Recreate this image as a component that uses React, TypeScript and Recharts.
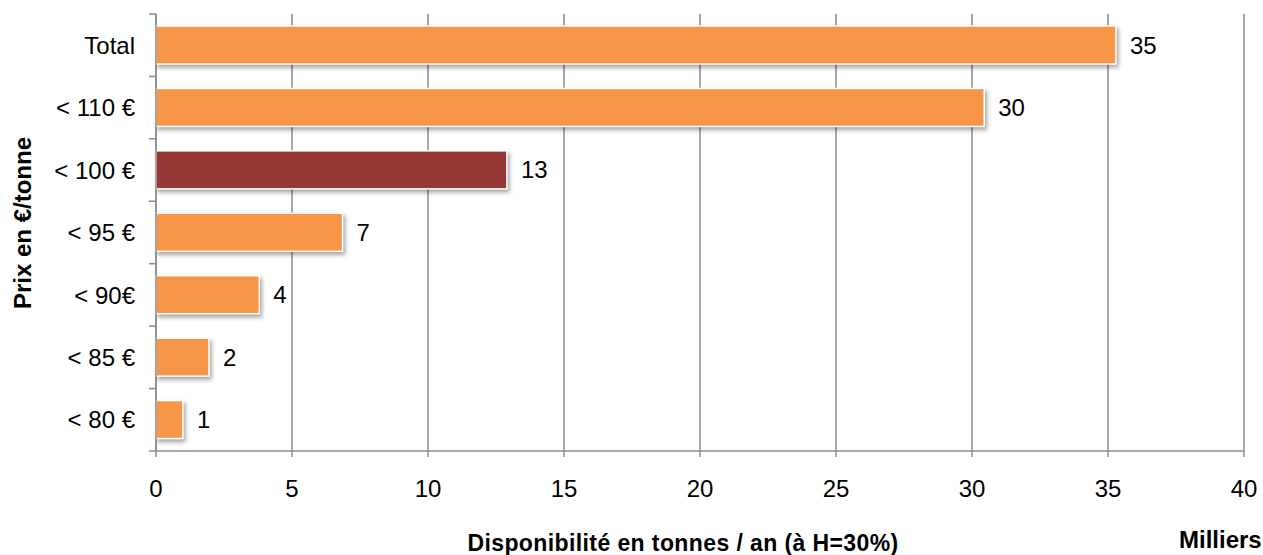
import React from "react";
import {
  BarChart,
  Bar,
  Cell,
  XAxis,
  YAxis,
  CartesianGrid,
  LabelList,
} from "recharts";

// Prix en €/tonne -> disponibilité (milliers de tonnes / an)
const CATEGORIES = ["Total", "< 110 €", "< 100 €", "< 95 €", "< 90€", "< 85 €", "< 80 €"];
const VALUES = [35.29, 30.45, 12.9, 6.86, 3.8, 1.95, 0.99];
const HIGHLIGHT = "< 100 €";
const X_TICKS = [0, 5, 10, 15, 20, 25, 30, 35, 40];

const ORANGE = "#F79646";
const DARK_RED = "#953735";
const AXIS_GREY = "#8C8C8C";
const FONT = "'Liberation Sans', Arial, sans-serif";

const data = CATEGORIES.map((name, i) => ({ name, value: VALUES[i] }));

function ShadowBar(props: any) {
  const { x, y, width, height, fill } = props;
  if (!width || width <= 0) return null;
  return (
    <rect
      x={x}
      y={y}
      width={width}
      height={height}
      fill={fill}
      stroke="#ffffff"
      strokeWidth={1.5}
      style={{ filter: "drop-shadow(2px 3px 2px rgba(0,0,0,0.35))" }}
    />
  );
}

function CategoryTick(props: any) {
  const { x, y, payload, index } = props;
  const half = payload?.offset ?? 437 / CATEGORIES.length / 2;
  return (
    <g>
      <line x1={x - 7} x2={x} y1={y - half} y2={y - half} stroke={AXIS_GREY} strokeWidth={1.5} />
      {index === CATEGORIES.length - 1 && (
        <line x1={x - 7} x2={x} y1={y + half} y2={y + half} stroke={AXIS_GREY} strokeWidth={1.5} />
      )}
      <text
        x={x - 21}
        y={y}
        dy="0.36em"
        textAnchor="end"
        fill="#000"
        fontSize={24}
        fontFamily={FONT}
      >
        {payload.value}
      </text>
    </g>
  );
}

export default function App() {
  return (
    <div
      style={{
        position: "absolute",
        left: 0,
        top: 0,
        width: 1263,
        height: 555,
        overflow: "hidden",
        background: "#fff",
        fontFamily: FONT,
      }}
    >
      <BarChart
        width={1263}
        height={555}
        data={data}
        layout="vertical"
        barSize={38}
        margin={{ top: 14, right: 19, bottom: 64, left: 26 }}
      >
        <CartesianGrid horizontal={false} stroke={AXIS_GREY} strokeWidth={1.5} />
        <XAxis
          type="number"
          domain={[0, 40]}
          ticks={X_TICKS}
          height={40}
          axisLine={{ stroke: AXIS_GREY, strokeWidth: 1.5 }}
          tickLine={{ stroke: AXIS_GREY, strokeWidth: 1.5 }}
          tickSize={6}
          tickMargin={23}
          tick={{ fill: "#000", fontSize: 24, fontFamily: FONT }}
        />
        <YAxis
          type="category"
          dataKey="name"
          width={130}
          axisLine={{ stroke: AXIS_GREY, strokeWidth: 1.5 }}
          tickLine={false}
          tickSize={0}
          tickMargin={0}
          tick={<CategoryTick />}
          interval={0}
        />
        <Bar dataKey="value" shape={<ShadowBar />} isAnimationActive={false}>
          {data.map((d) => (
            <Cell key={d.name} fill={d.name === HIGHLIGHT ? DARK_RED : ORANGE} />
          ))}
          <LabelList
            dataKey="value"
            position="right"
            offset={14}
            formatter={(v: any) => Math.round(Number(v))}
            style={{ fill: "#000", fontSize: 24, fontFamily: FONT }}
          />
        </Bar>
      </BarChart>
      <div
        style={{
          position: "absolute",
          left: 23,
          top: 223,
          transform: "translate(-50%, -50%) rotate(-90deg)",
          whiteSpace: "nowrap",
          fontWeight: "bold",
          fontSize: 24,
          lineHeight: "24px",
        }}
      >
        Prix en €/tonne
      </div>
      <div
        style={{
          position: "absolute",
          left: 683,
          top: 532,
          transform: "translateX(-50%)",
          whiteSpace: "nowrap",
          fontWeight: "bold",
          fontSize: 23,
          lineHeight: "23px",
          letterSpacing: 0.4,
        }}
      >
        Disponibilité en tonnes / an (à H=30%)
      </div>
      <div
        style={{
          position: "absolute",
          left: 1179,
          top: 528,
          whiteSpace: "nowrap",
          fontWeight: "bold",
          fontSize: 24,
          lineHeight: "24px",
        }}
      >
        Milliers
      </div>
    </div>
  );
}
